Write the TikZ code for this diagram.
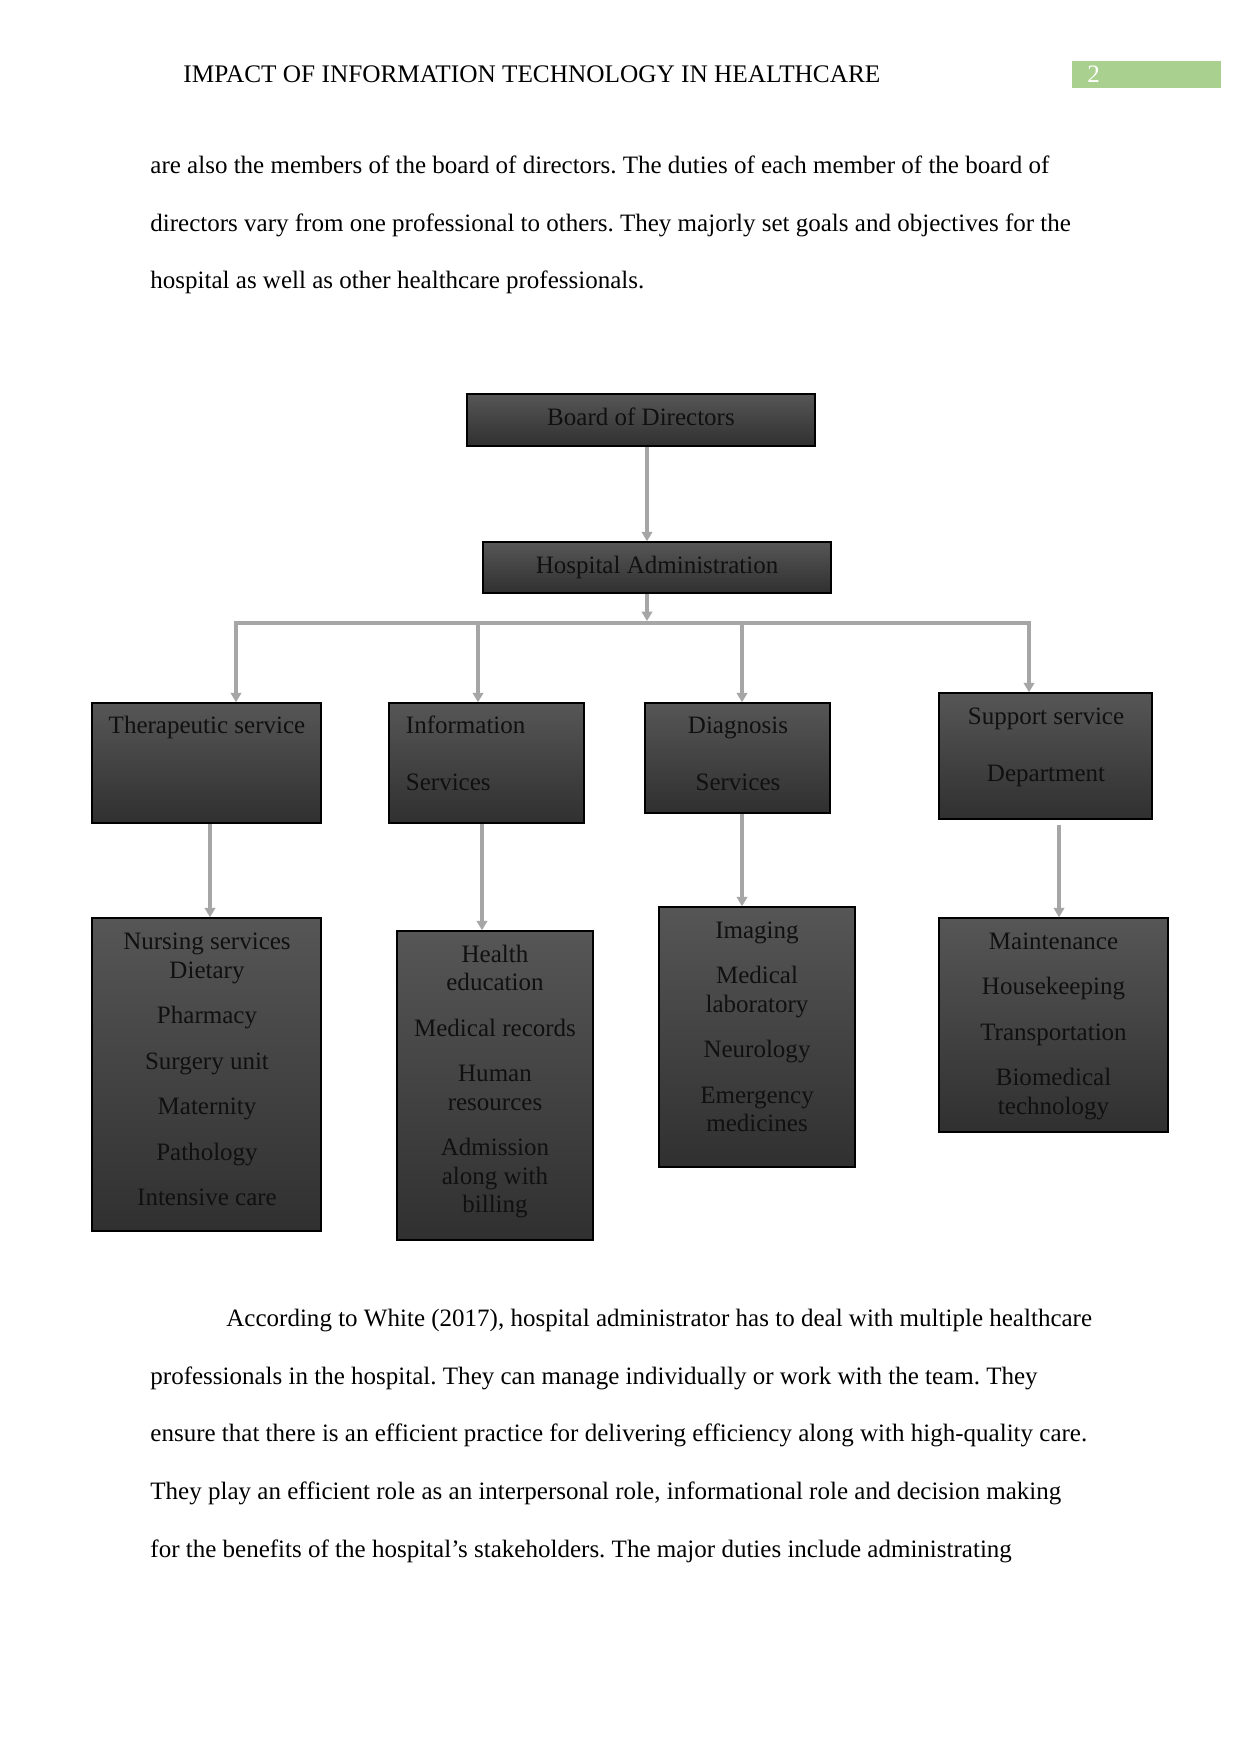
\documentclass[tikz,border=0pt]{standalone}
\usepackage{fontspec}
\setmainfont{Liberation Serif}
\usetikzlibrary{arrows.meta,fit,calc}
\definecolor{boxtop}{RGB}{86,86,86}
\definecolor{boxbot}{RGB}{48,48,48}
\definecolor{connc}{RGB}{166,166,166}
\definecolor{hdrgreen}{RGB}{169,208,142}
\definecolor{boxtext}{RGB}{16,16,16}
\frenchspacing
\begin{document}
\begin{tikzpicture}[x=0.47969pt,y=-0.47969pt,
  orgbox/.style={draw=black, line width=0.7pt, top color=boxtop, bottom color=boxbot, inner sep=0pt, rectangle},
  connline/.style={draw=connc, line width=1.6pt},
  arr/.style={connline, -{Triangle[width=5pt,length=4.5pt]}},
  bt/.style={font=\fontsize{12}{14}\selectfont, text=boxtext, inner sep=0pt, anchor=base},
  btl/.style={bt, anchor=base west},
  body/.style={font=\fontsize{12}{14}\selectfont, inner sep=0pt, anchor=base west}]
\useasboundingbox[fill=white] (0,0) rectangle (1241,1754);

% header
\node[body, font=\fontsize{12.13}{14}\selectfont] (hdr) at (183,83) {IMPACT OF INFORMATION TECHNOLOGY IN HEALTHCARE};
\node[fill=hdrgreen, inner sep=0pt, fit={(1072,61) (1221,88)}] (pg) {};
\node[body, text=white] (pgnum) at (1087,83) {2};

% body text above
\node[body] (p1) at (150,174) {are also the members of the board of directors. The duties of each member of the board of};
\node[body] (p2) at (150,231.5) {directors vary from one professional to others. They majorly set goals and objectives for the};
\node[body] (p3) at (150,289) {hospital as well as other healthcare professionals.};

% body text below
\node[body] (q1) at (226,1326) {According to White (2017), hospital administrator has to deal with multiple healthcare};
\node[body] (q2) at (150,1384) {professionals in the hospital. They can manage individually or work with the team. They};
\node[body] (q3) at (150,1441.5) {ensure that there is an efficient practice for delivering efficiency along with high-quality care.};
\node[body] (q4) at (150,1499) {They play an efficient role as an interpersonal role, informational role and decision making};
\node[body] (q5) at (150,1557) {for the benefits of the hospital’s stakeholders. The major duties include administrating};

% top boxes
\node[orgbox, fit={(467,394) (815,446)}] (board) {};
\node[bt] (boardt) at (641,425.5) {Board of Directors};
\node[orgbox, fit={(483,542) (831,593)}] (hadm) {};
\node[bt] (hadmt) at (657,573) {Hospital Administration};

% second level
\node[orgbox, fit={(92,703) (321,823)}] (ther) {};
\node[bt] (thert) at (207,733) {Therapeutic service};
\node[orgbox, fit={(389,703) (584,823)}] (info) {};
\node[btl] (infot1) at (405.5,733) {Information};
\node[btl] (infot2) at (405.5,790) {Services};
\node[orgbox, fit={(645,703) (830,813)}] (diag) {};
\node[bt] (diagt1) at (738,733) {Diagnosis};
\node[bt] (diagt2) at (738,790) {Services};
\node[orgbox, fit={(939,693) (1152,819)}] (supp) {};
\node[bt] (suppt1) at (1046,724) {Support service};
\node[bt] (suppt2) at (1046,781) {Department};

% third level
\node[orgbox, fit={(92,918) (321,1231)}] (nurs) {};
\foreach \t/\b [count=\i] in {Nursing services/949, Dietary/978, Pharmacy/1023.5, Surgery unit/1069, Maternity/1114.5, Pathology/1160, Intensive care/1205.5}
  \node[bt] (nurs\i) at (207,\b) {\t};
\node[orgbox, fit={(397,931) (593,1240)}] (heal) {};
\foreach \t/\b [count=\i] in {Health/962, education/990.5, Medical records/1036, Human/1081.5, resources/1110, Admission/1155.5, along with/1184, billing/1212.5}
  \node[bt] (heal\i) at (495,\b) {\t};
\node[orgbox, fit={(659,907) (855,1167)}] (imag) {};
\foreach \t/\b [count=\i] in {Imaging/938, Medical/983.5, laboratory/1012, Neurology/1057.5, Emergency/1103, medicines/1131.5}
  \node[bt] (imag\i) at (757,\b) {\t};
\node[orgbox, fit={(939,918) (1168,1132)}] (main) {};
\foreach \t/\b [count=\i] in {Maintenance/949, Housekeeping/994.5, Transportation/1040, Biomedical/1085.5, technology/1114}
  \node[bt] (main\i) at (1053.5,\b) {\t};

% connector coordinates
\coordinate (xa) at (647,0);
\coordinate (hub) at (647,621);
\coordinate (bar1) at (236,623);
\coordinate (bar2) at (478,623);
\coordinate (bar3) at (742,623);
\coordinate (bar4) at (1029,623);
\coordinate (c1) at (210,0);
\coordinate (c2) at (482,0);
\coordinate (c3) at (742,0);
\coordinate (c4) at (1059,0);

% connectors
\draw[arr] (board.south -| xa) -- (hadm.north -| xa);
\draw[arr] (hadm.south -| xa) -- (hub);
\draw[connline, {Triangle[width=5pt,length=4.5pt]}-{Triangle[width=5pt,length=4.5pt]}]
  (ther.north -| bar1) -- (bar1) -- (bar4) -- (supp.north -| bar4);
\draw[arr] (bar2) -- (info.north -| bar2);
\draw[arr] (bar3) -- (diag.north -| bar3);
\draw[arr] (ther.south -| c1) -- (nurs.north -| c1);
\draw[arr] (info.south -| c2) -- (heal.north -| c2);
\draw[arr] (diag.south -| c3) -- (imag.north -| c3);
\draw[arr, shorten <=2.4pt] (supp.south -| c4) -- (main.north -| c4);
\end{tikzpicture}
\end{document}
